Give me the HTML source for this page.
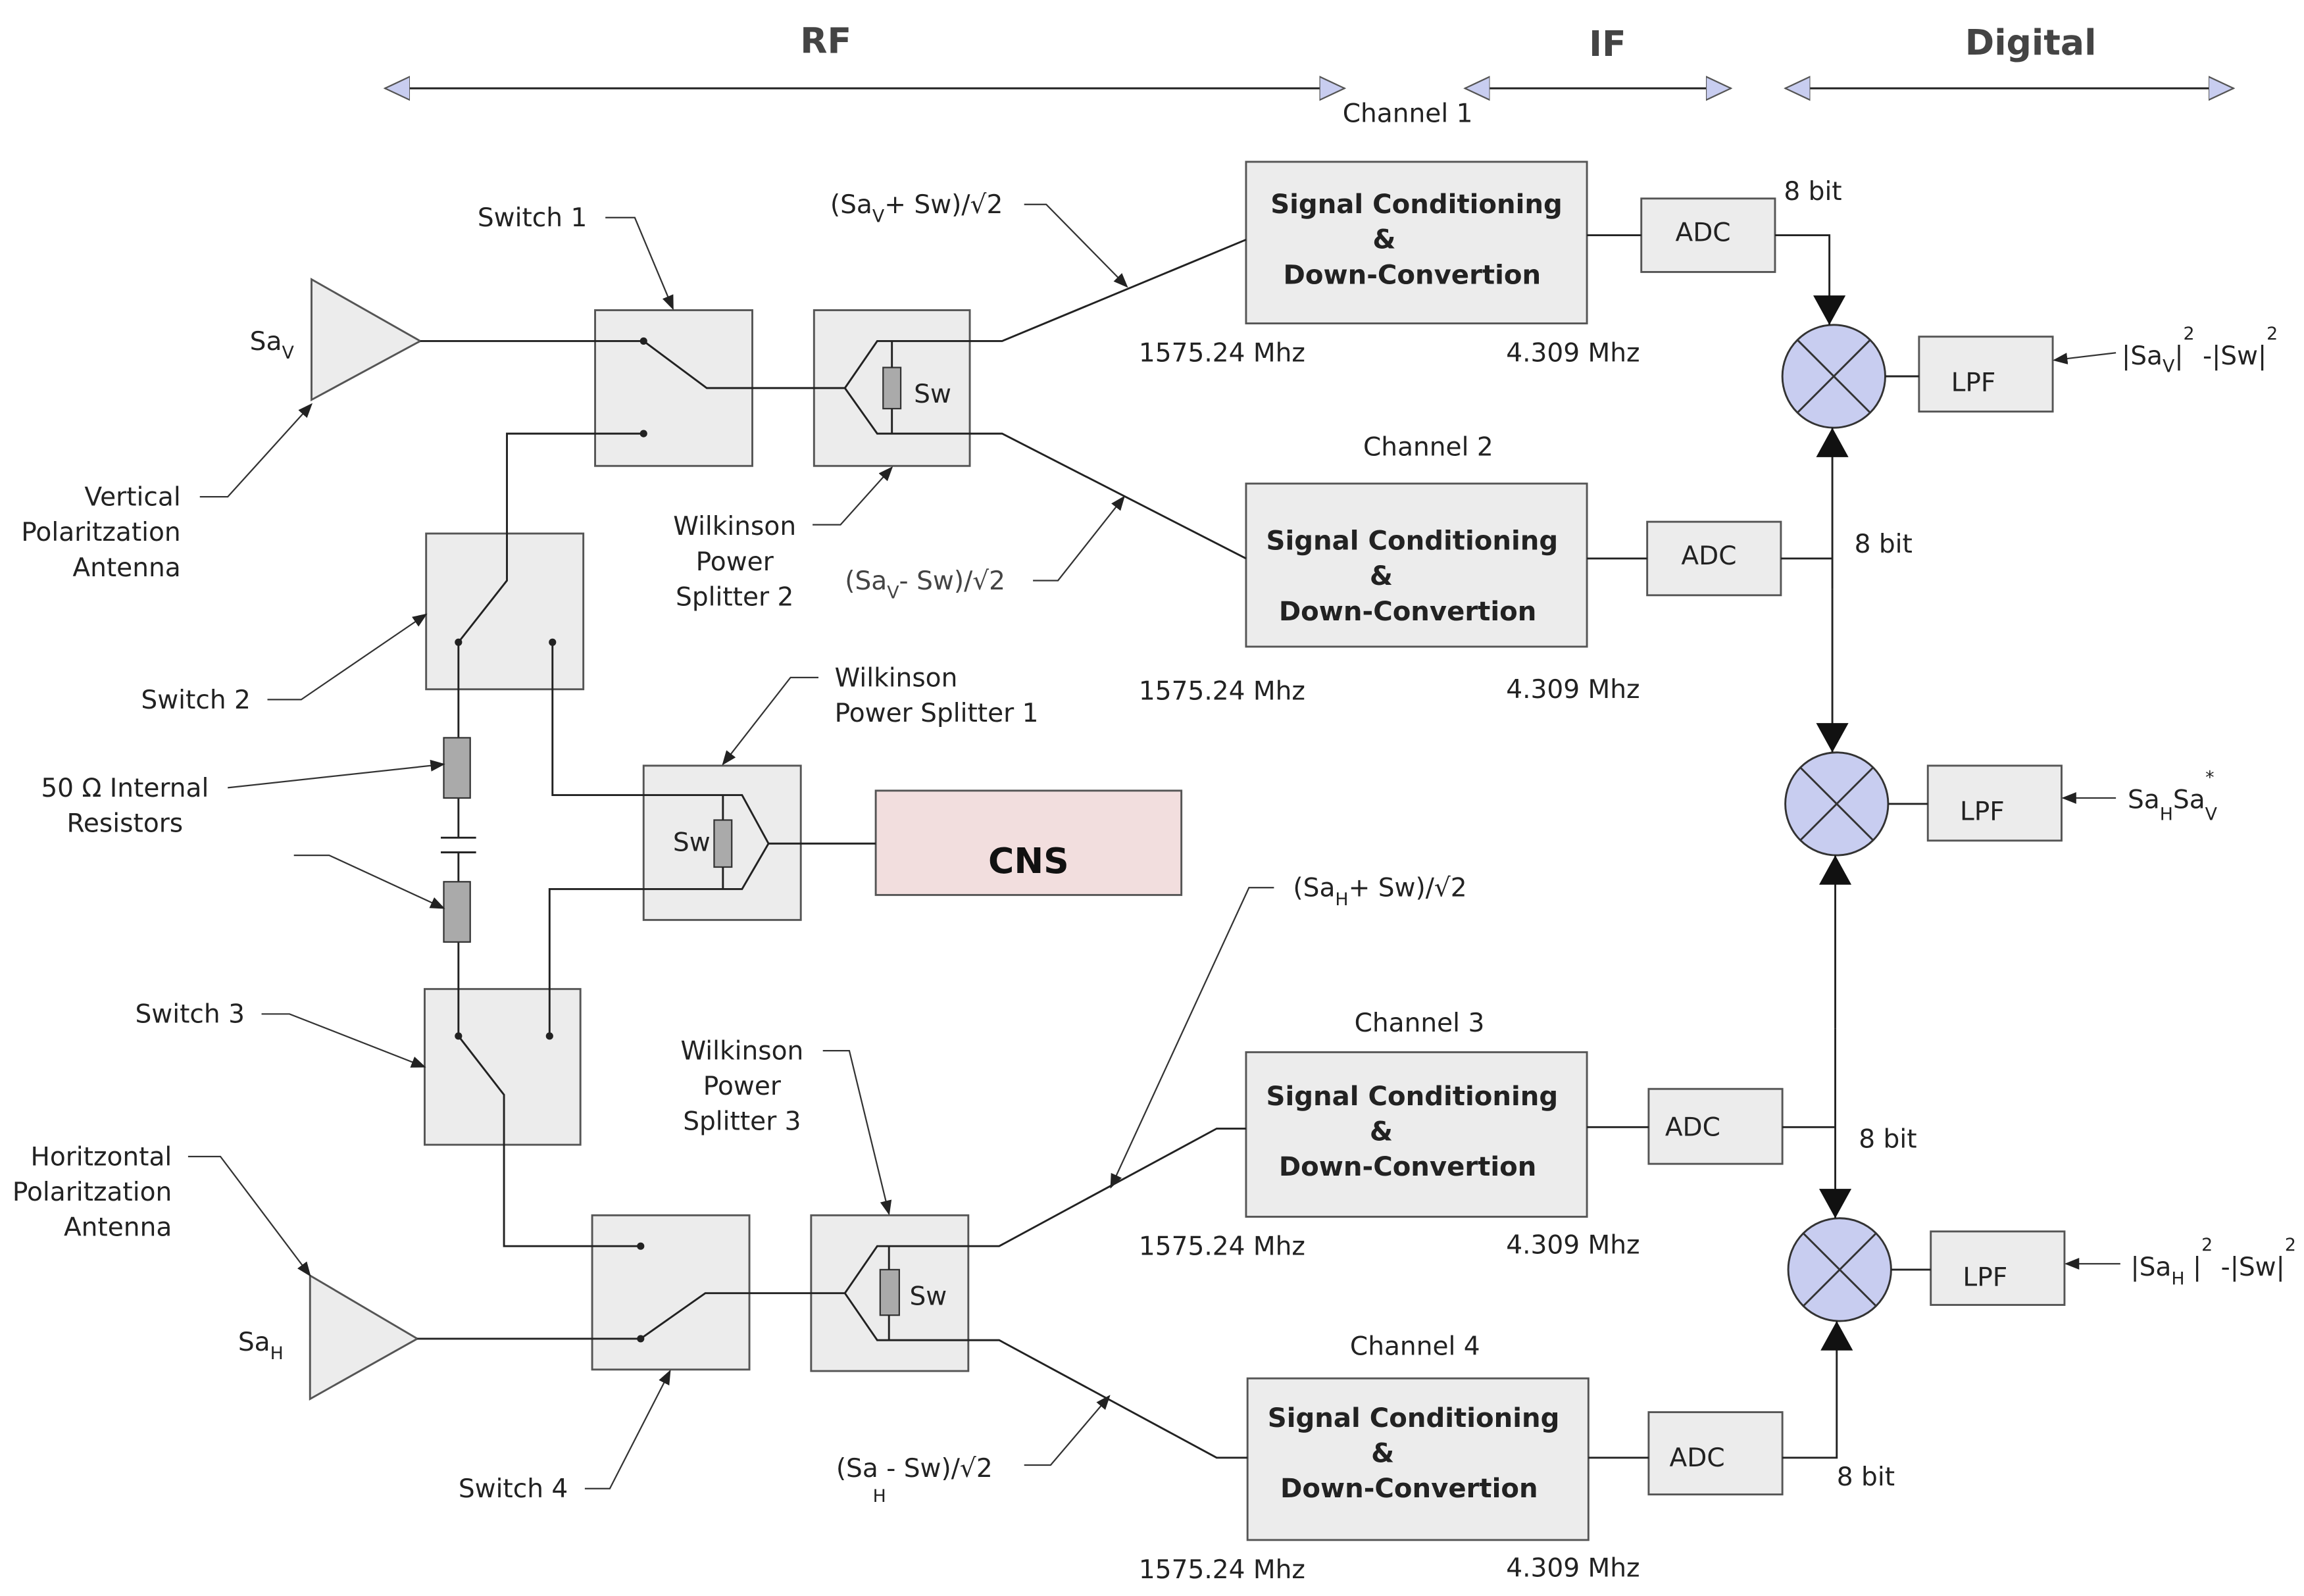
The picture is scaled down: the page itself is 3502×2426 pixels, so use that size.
<!DOCTYPE html>
<html><head><meta charset="utf-8"><style>
html,body{margin:0;padding:0;background:#fff}
svg{display:block}
text{font-family:"DejaVu Sans","Liberation Sans",sans-serif;font-size:17.5px;fill:#222}
.b{font-weight:bold}
.sc{font-weight:bold;font-size:18px}
.box{fill:#ececec;stroke:#555;stroke-width:1.3}
.ln{stroke:#222;stroke-width:1.3;fill:none}
.ld{stroke:#333;stroke-width:1;fill:none}
.sub{font-size:12px}
</style></head><body>
<svg width="3502" height="2426" viewBox="0 0 1568 1086" xmlns="http://www.w3.org/2000/svg">
<defs>
<marker id="a" markerWidth="10" markerHeight="8" refX="9" refY="4" orient="auto" markerUnits="userSpaceOnUse"><path d="M0,0 L10,4 L0,8 Z" fill="#222"/></marker>
<marker id="big" markerWidth="20" markerHeight="22" refX="20" refY="11" orient="auto" markerUnits="userSpaceOnUse"><path d="M0,0 L20,11 L0,22 Z" fill="#111"/></marker>
<marker id="ha" markerWidth="18" markerHeight="18" refX="17" refY="9" orient="auto" markerUnits="userSpaceOnUse"><path d="M0,1 L17,9 L0,17 Z" fill="#c8cdf0" stroke="#555"/></marker>
<marker id="hs" markerWidth="18" markerHeight="18" refX="1" refY="9" orient="auto" markerUnits="userSpaceOnUse"><path d="M18,1 L1,9 L18,17 Z" fill="#c8cdf0" stroke="#555"/></marker>
</defs>

<line class="ln" x1="262" y1="60" x2="915" y2="60" marker-start="url(#hs)" marker-end="url(#ha)"/>
<line class="ln" x1="997" y1="60" x2="1178" y2="60" marker-start="url(#hs)" marker-end="url(#ha)"/>
<line class="ln" x1="1215" y1="60" x2="1520" y2="60" marker-start="url(#hs)" marker-end="url(#ha)"/>
<text class="b" x="562" y="36" text-anchor="middle" style="font-size:24px;fill:#444">RF</text>
<text class="b" x="1094" y="38" text-anchor="middle" style="font-size:24px;fill:#444">IF</text>
<text class="b" x="1382" y="37" text-anchor="middle" style="font-size:24px;fill:#444">Digital</text>

<polygon class="box" points="212,190 212,272 286,232"/>
<polygon class="box" points="211,868 211,952 284,911"/>

<rect class="box" x="405" y="211" width="107" height="106"/>
<rect class="box" x="554" y="211" width="106" height="106"/>
<rect class="box" x="290" y="363" width="107" height="106"/>
<rect class="box" x="438" y="521" width="107" height="105"/>
<rect class="box" x="289" y="673" width="106" height="106"/>
<rect class="box" x="403" y="827" width="107" height="105"/>
<rect class="box" x="552" y="827" width="107" height="106"/>
<rect x="596" y="538" width="208" height="71" fill="#f2dede" stroke="#555" stroke-width="1.3"/>
<text class="b" x="700" y="594" text-anchor="middle" style="font-size:24px;fill:#111">CNS</text>

<rect class="box" x="848" y="110" width="232" height="110"/>
<rect class="box" x="848" y="329" width="232" height="111"/>
<rect class="box" x="848" y="716" width="232" height="112"/>
<rect class="box" x="849" y="938" width="232" height="110"/>
<text class="sc" x="964" y="145" text-anchor="middle">Signal Conditioning</text>
<text class="sc" x="942" y="169" text-anchor="middle">&amp;</text>
<text class="sc" x="961" y="193" text-anchor="middle">Down-Convertion</text>
<text class="sc" x="961" y="374" text-anchor="middle">Signal Conditioning</text>
<text class="sc" x="940" y="398" text-anchor="middle">&amp;</text>
<text class="sc" x="958" y="422" text-anchor="middle">Down-Convertion</text>
<text class="sc" x="961" y="752" text-anchor="middle">Signal Conditioning</text>
<text class="sc" x="940" y="776" text-anchor="middle">&amp;</text>
<text class="sc" x="958" y="800" text-anchor="middle">Down-Convertion</text>
<text class="sc" x="962" y="971" text-anchor="middle">Signal Conditioning</text>
<text class="sc" x="941" y="995" text-anchor="middle">&amp;</text>
<text class="sc" x="959" y="1019" text-anchor="middle">Down-Convertion</text>

<rect class="box" x="1117" y="135" width="91" height="50"/><text x="1159" y="164" text-anchor="middle">ADC</text>
<rect class="box" x="1121" y="355" width="91" height="50"/><text x="1163" y="384" text-anchor="middle">ADC</text>
<rect class="box" x="1122" y="741" width="91" height="51"/><text x="1152" y="773" text-anchor="middle">ADC</text>
<rect class="box" x="1122" y="961" width="91" height="56"/><text x="1155" y="998" text-anchor="middle">ADC</text>
<rect class="box" x="1306" y="229" width="91" height="51"/><text x="1343" y="266" text-anchor="middle">LPF</text>
<rect class="box" x="1312" y="521" width="91" height="51"/><text x="1349" y="558" text-anchor="middle">LPF</text>
<rect class="box" x="1314" y="838" width="91" height="50"/><text x="1351" y="875" text-anchor="middle">LPF</text>

<g stroke="#333" stroke-width="1.3">
<circle cx="1248" cy="256" r="35" fill="#c8cdf0"/>
<line x1="1223" y1="231" x2="1273" y2="281"/><line x1="1273" y1="231" x2="1223" y2="281"/>
<circle cx="1250" cy="547" r="35" fill="#c8cdf0"/>
<line x1="1225" y1="522" x2="1275" y2="572"/><line x1="1275" y1="522" x2="1225" y2="572"/>
<circle cx="1252" cy="864" r="35" fill="#c8cdf0"/>
<line x1="1227" y1="839" x2="1277" y2="889"/><line x1="1277" y1="839" x2="1227" y2="889"/>
</g>

<path class="ln" d="M1080,160 H1117 M1208,160 H1245 V221" marker-end="url(#big)"/>
<line class="ln" x1="1283" y1="256" x2="1306" y2="256"/>
<line class="ln" x1="1285" y1="547" x2="1312" y2="547"/>
<line class="ln" x1="1287" y1="864" x2="1314" y2="864"/>
<line class="ln" x1="1247" y1="401" x2="1247" y2="291" marker-end="url(#big)"/>
<line class="ln" x1="1247" y1="401" x2="1247" y2="512" marker-end="url(#big)"/>
<path class="ln" d="M1080,380 H1121 M1212,380 H1247"/>
<line class="ln" x1="1249" y1="700" x2="1249" y2="582" marker-end="url(#big)"/>
<line class="ln" x1="1249" y1="700" x2="1249" y2="829" marker-end="url(#big)"/>
<path class="ln" d="M1080,767 H1122 M1213,767 H1249"/>
<path class="ln" d="M1081,992 H1122 M1213,992 H1250 V899" marker-end="url(#big)"/>

<line class="ln" x1="286" y1="232" x2="438" y2="232"/>
<circle cx="438" cy="232" r="2.5" fill="#222"/><circle cx="438" cy="295" r="2.5" fill="#222"/>
<path class="ln" d="M438,232 L481,264 H575 L597,232 H682 L848,163"/>
<path class="ln" d="M575,264 L597,295 H682 L848,380"/>
<rect x="601" y="250" width="12" height="28" fill="#aaa" stroke="#333"/>
<line class="ln" x1="607" y1="232" x2="607" y2="250"/><line class="ln" x1="607" y1="278" x2="607" y2="295"/>
<text x="622" y="274">Sw</text>

<path class="ln" d="M438,295 H345 V395 L312,437"/>
<circle cx="312" cy="437" r="2.5" fill="#222"/><circle cx="376" cy="437" r="2.5" fill="#222"/>
<path class="ln" d="M312,437 V502 M312,543 V570 M300,570 H324 M300,580 H324 M312,580 V600 M312,641 V705"/>
<rect x="302" y="502" width="18" height="41" fill="#aaa" stroke="#333"/>
<rect x="302" y="600" width="18" height="41" fill="#aaa" stroke="#333"/>
<path class="ln" d="M376,437 V541 H505 L523,574 L505,605 H374 V705"/>
<line class="ln" x1="523" y1="574" x2="596" y2="574"/>
<rect x="486" y="558" width="12" height="32" fill="#aaa" stroke="#333"/>
<line class="ln" x1="492" y1="541" x2="492" y2="558"/><line class="ln" x1="492" y1="590" x2="492" y2="605"/>
<text x="458" y="579">Sw</text>
<circle cx="312" cy="705" r="2.5" fill="#222"/><circle cx="374" cy="705" r="2.5" fill="#222"/>
<path class="ln" d="M312,705 L343,745 V848 H436"/>
<circle cx="436" cy="848" r="2.5" fill="#222"/><circle cx="436" cy="911" r="2.5" fill="#222"/>
<path class="ln" d="M284,911 H436 L480,880 H575 L597,848 H680 L828,768 H848"/>
<path class="ln" d="M575,880 L597,912 H680 L828,992 H849"/>
<rect x="599" y="864" width="13" height="31" fill="#aaa" stroke="#333"/>
<line class="ln" x1="605" y1="848" x2="605" y2="864"/><line class="ln" x1="605" y1="895" x2="605" y2="912"/>
<text x="619" y="888">Sw</text>

<text x="958" y="83" text-anchor="middle">Channel 1</text>
<text x="972" y="310" text-anchor="middle">Channel 2</text>
<text x="966" y="702" text-anchor="middle">Channel 3</text>
<text x="963" y="922" text-anchor="middle">Channel 4</text>
<g style="fill:#444">
<text x="775" y="246">1575.24 Mhz</text><text x="1025" y="246">4.309 Mhz</text>
<text x="775" y="476">1575.24 Mhz</text><text x="1025" y="475">4.309 Mhz</text>
<text x="775" y="854">1575.24 Mhz</text><text x="1025" y="853">4.309 Mhz</text>
<text x="775" y="1074">1575.24 Mhz</text><text x="1025" y="1073">4.309 Mhz</text>
<text x="1214" y="136">8 bit</text><text x="1262" y="376">8 bit</text>
<text x="1265" y="781">8 bit</text><text x="1250" y="1011">8 bit</text>
</g>
<text x="1444" y="248">|Sa<tspan class="sub" dy="5">V</tspan><tspan dy="-5">|</tspan><tspan class="sub" dy="-17">2</tspan><tspan dy="17"> -|Sw|</tspan><tspan class="sub" dy="-17">2</tspan></text>
<line class="ld" x1="1440" y1="240" x2="1398" y2="245" marker-end="url(#a)"/>
<text x="1448" y="550">Sa<tspan class="sub" dy="8">H</tspan><tspan dy="-8">Sa</tspan><tspan class="sub" dy="8">V</tspan><tspan class="sub" dx="-8" dy="-25">*</tspan></text>
<line class="ld" x1="1440" y1="543" x2="1404" y2="543" marker-end="url(#a)"/>
<text x="1450" y="868">|Sa<tspan class="sub" dy="6">H</tspan><tspan dy="-6"> |</tspan><tspan class="sub" dy="-17">2</tspan><tspan dy="17"> -|Sw|</tspan><tspan class="sub" dy="-17">2</tspan></text>
<line class="ld" x1="1443" y1="860" x2="1406" y2="860" marker-end="url(#a)"/>

<text x="325" y="154">Switch 1</text>
<path class="ld" d="M412,148 H432 L458,210" marker-end="url(#a)"/>
<text x="170" y="238">Sa<tspan class="sub" dy="6">V</tspan></text>
<text x="162" y="919">Sa<tspan class="sub" dy="6">H</tspan></text>
<g text-anchor="end">
<text x="123" y="344">Vertical</text><text x="123" y="368">Polaritzation</text><text x="123" y="392">Antenna</text>
<text x="117" y="793">Horitzontal</text><text x="117" y="817">Polaritzation</text><text x="117" y="841">Antenna</text>
</g>
<path class="ld" d="M136,338 H155 L212,275" marker-end="url(#a)"/>
<path class="ld" d="M128,787 H150 L211,868" marker-end="url(#a)"/>
<text x="565" y="145">(Sa<tspan class="sub" dy="6">V</tspan><tspan dy="-6">+ Sw)/√2</tspan></text>
<path class="ld" d="M697,139 H712 L767,195" marker-end="url(#a)"/>
<g text-anchor="middle">
<text x="500" y="364">Wilkinson</text><text x="500" y="388">Power</text><text x="500" y="412">Splitter 2</text>
<text x="505" y="721">Wilkinson</text><text x="505" y="745">Power</text><text x="505" y="769">Splitter 3</text>
<text x="85" y="542">50 Ω Internal</text><text x="85" y="566">Resistors</text>
</g>
<path class="ld" d="M553,357 H572 L607,318" marker-end="url(#a)"/>
<path class="ld" d="M560,715 H578 L605,826" marker-end="url(#a)"/>
<text x="575" y="401" style="fill:#444">(Sa<tspan class="sub" dy="6">V</tspan><tspan dy="-6">- Sw)/√2</tspan></text>
<path class="ld" d="M703,395 H720 L765,338" marker-end="url(#a)"/>
<text x="96" y="482">Switch 2</text>
<path class="ld" d="M182,476 H205 L290,418" marker-end="url(#a)"/>
<path class="ld" d="M155,536 L302,520" marker-end="url(#a)"/>
<path class="ld" d="M200,582 H224 L302,618" marker-end="url(#a)"/>
<text x="568" y="467">Wilkinson</text><text x="568" y="491">Power Splitter 1</text>
<path class="ld" d="M557,461 H538 L492,520" marker-end="url(#a)"/>
<text x="92" y="696">Switch 3</text>
<path class="ld" d="M178,690 H197 L289,726" marker-end="url(#a)"/>
<text x="880" y="610">(Sa<tspan class="sub" dy="6">H</tspan><tspan dy="-6">+ Sw)/√2</tspan></text>
<path class="ld" d="M867,604 H850 L756,808" marker-end="url(#a)"/>
<text x="312" y="1019">Switch 4</text>
<path class="ld" d="M398,1013 H415 L456,933" marker-end="url(#a)"/>
<text x="569" y="1005">(Sa - Sw)/√2</text>
<text class="sub" x="594" y="1022">H</text>
<path class="ld" d="M697,997 H715 L755,950" marker-end="url(#a)"/>
</svg>
</body></html>
